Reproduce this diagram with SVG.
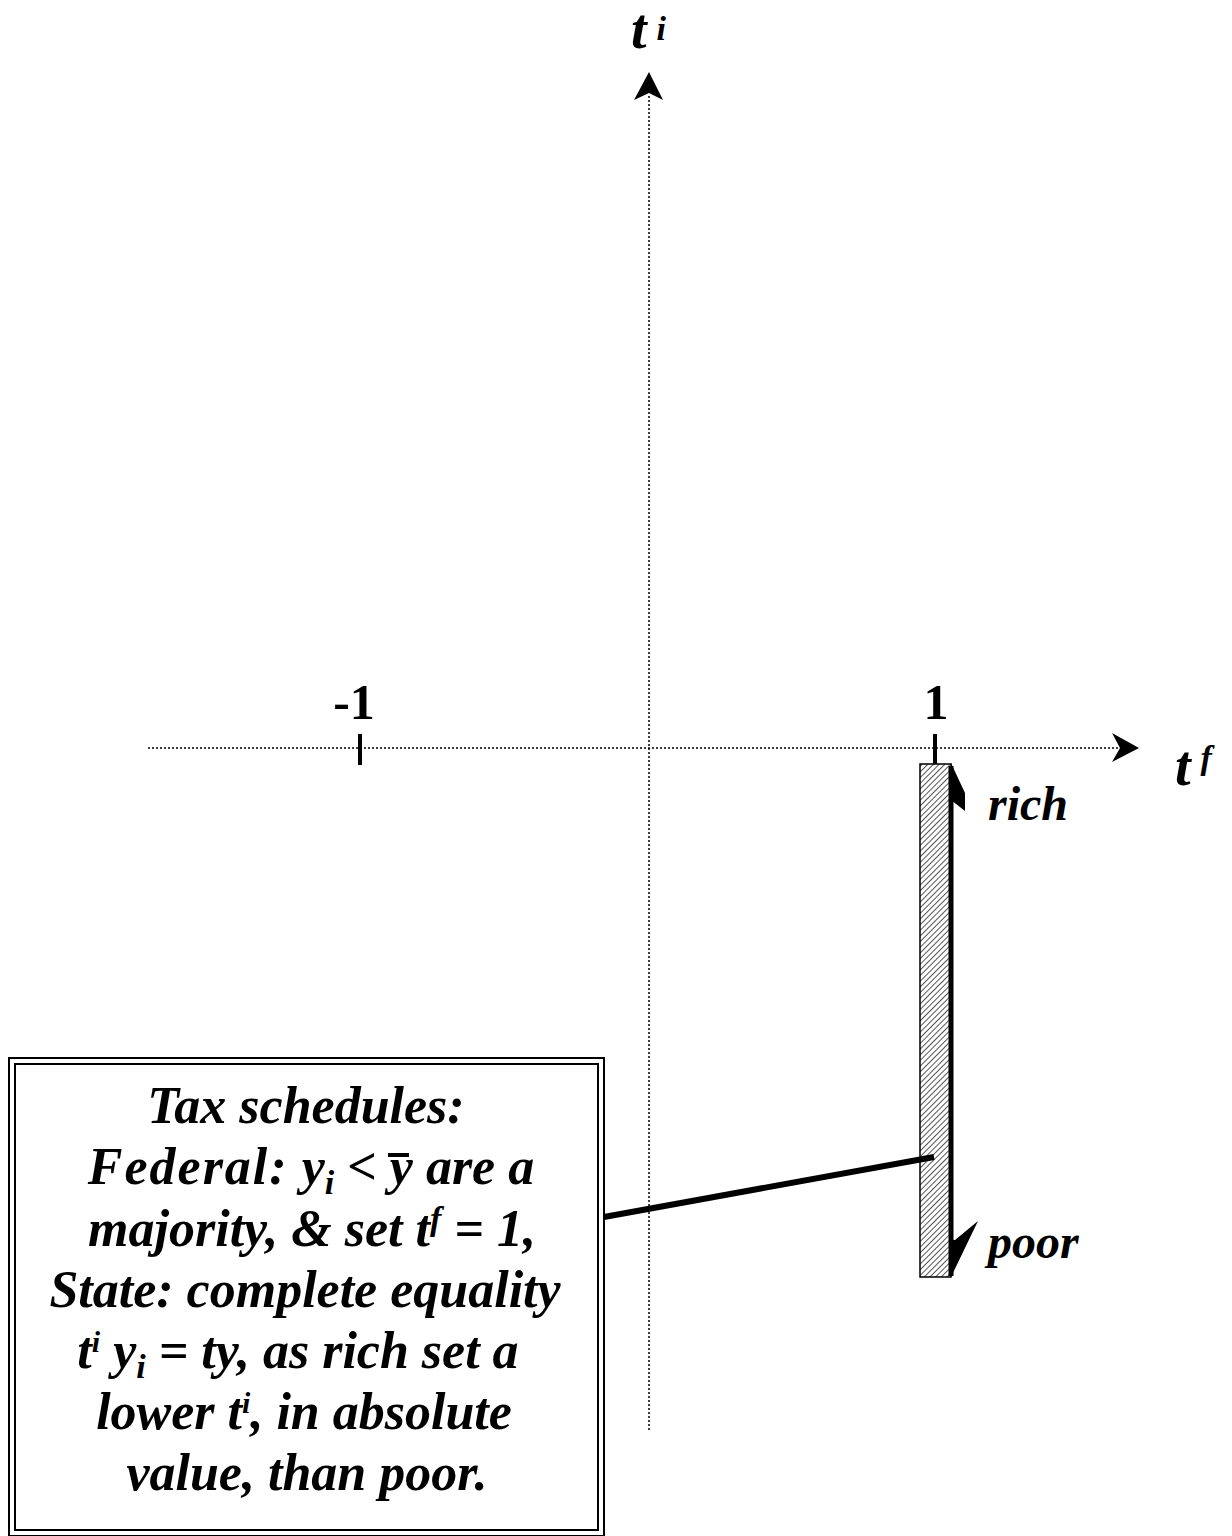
<svg xmlns="http://www.w3.org/2000/svg" width="1232" height="1536" viewBox="0 0 1232 1536">
<style>
.axis{stroke:#000;stroke-width:1.5;stroke-dasharray:2 2;fill:none}
.tick{stroke:#000;stroke-width:4}
.lbl{font-family:"Liberation Serif","Times New Roman",serif;font-weight:bold;fill:#000}
.it{font-style:italic}
.box{font-family:"Liberation Serif","Times New Roman",serif;font-weight:bold;font-style:italic;font-size:52px;fill:#000;text-anchor:middle}
</style>
<defs>
<pattern id="hatch" width="4" height="4" patternUnits="userSpaceOnUse" patternTransform="rotate(45)">
<rect width="4" height="4" fill="#fff"/>
<line x1="0" y1="0" x2="0" y2="4" stroke="#555" stroke-width="2"/>
</pattern>
</defs>
<g id="axes">
<line class="axis" x1="649" y1="1430" x2="649" y2="95"/>
<polygon points="649,72 663,100 649,93 634,100" fill="#000"/>
<line class="axis" x1="148" y1="748" x2="1118" y2="748"/>
<polygon points="1139,748 1112,762 1120,748 1112,733" fill="#000"/>
<line class="tick" x1="360" y1="734" x2="360" y2="765"/>
<line class="tick" x1="935" y1="734" x2="935" y2="764"/>
<text class="lbl" x="354" y="719" font-size="50" text-anchor="middle">-1</text>
<text class="lbl" x="936" y="719" font-size="50" text-anchor="middle">1</text>
<text class="lbl it" x="631" y="48" font-size="56">t<tspan font-size="34" dx="10" dy="-8">i</tspan></text>
<text class="lbl it" x="1175" y="785" font-size="56">t<tspan font-size="34" dx="10" dy="-16">f</tspan></text>
</g>
<g id="bar">
<rect x="920" y="764" width="31" height="513" fill="url(#hatch)" stroke="#000" stroke-width="1.5"/>
<line x1="951" y1="766" x2="951" y2="1276" stroke="#000" stroke-width="5"/>
<polygon points="951,763 965,793 965,811 951,800" fill="#000"/>
<polygon points="951,1277 978,1221 955,1240 951,1240" fill="#000"/>
<text class="lbl it" x="988" y="820" font-size="48">rich</text>
<text class="lbl it" x="988" y="1258" font-size="48">poor</text>
</g>
<g id="connectors">
<line x1="604" y1="1217" x2="934" y2="1157" stroke="#000" stroke-width="6"/>
</g>
<g id="note">
<rect x="9" y="1058" width="595" height="478" fill="#fff" stroke="#000" stroke-width="2"/>
<rect x="15" y="1064" width="583" height="466" fill="none" stroke="#000" stroke-width="2"/>
<text class="box" x="306" y="1123">Tax schedules:</text>
<text class="box" x="311" y="1184"><tspan letter-spacing="2">Federal:</tspan> y<tspan font-size="34" dy="10">i</tspan><tspan dy="-10"> &lt; y are a</tspan></text>
<line x1="388" y1="1155" x2="409" y2="1155" stroke="#000" stroke-width="4"/>
<text class="box" x="312" y="1246">majority, &amp; set t<tspan font-size="34" dy="-16">f</tspan><tspan dy="16"> = 1,</tspan></text>
<text class="box" x="305" y="1307">State: complete equality</text>
<text class="box" x="298" y="1368">t<tspan font-size="30" dy="-16">i</tspan><tspan dy="16"> y</tspan><tspan font-size="34" dy="10">i</tspan><tspan dy="-10"> = ty, as rich set a</tspan></text>
<text class="box" x="304" y="1429">lower t<tspan font-size="30" dy="-16">i</tspan><tspan dy="16">, in absolute</tspan></text>
<text class="box" x="307" y="1490">value, than poor.</text>
</g>
</svg>
